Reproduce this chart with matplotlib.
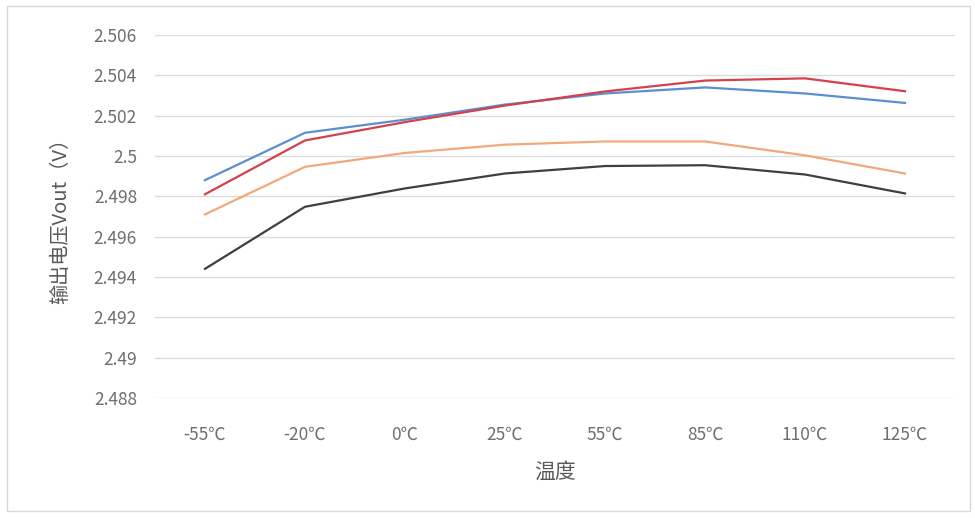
import matplotlib
matplotlib.use('Agg')
import matplotlib.pyplot as plt
from matplotlib.ticker import MultipleLocator, FuncFormatter
from matplotlib.patches import Rectangle

plt.rcParams['font.family'] = ['Noto Sans CJK SC', 'DejaVu Sans']

# data
temps = ['-55℃', '-20℃', '0℃', '25℃', '55℃', '85℃', '110℃', '125℃']
v_blue = [2.4988, 2.50115, 2.5018, 2.50255, 2.5031, 2.5034, 2.5031, 2.50263]
v_red = [2.4981, 2.50077, 2.50168, 2.5025, 2.5032, 2.50374, 2.50385, 2.50321]
v_orange = [2.4971, 2.49946, 2.50015, 2.50056, 2.50072, 2.50072, 2.50003, 2.49913]
v_dark = [2.4944, 2.49748, 2.49839, 2.49913, 2.4995, 2.49954, 2.49908, 2.49814]

fig = plt.figure(figsize=(9.75, 5.18), dpi=100)
ax = fig.add_axes([0.159, 0.232, 0.8205, 0.7004])

x = range(len(temps))
ax.plot(x, v_blue, color='#5b8fcf', lw=1.6)
ax.plot(x, v_red, color='#d2424c', lw=1.6)
ax.plot(x, v_orange, color='#f2a97a', lw=1.6)
ax.plot(x, v_dark, color='#3f3f3f', lw=1.6)

ax.set_xlim(-0.5, len(temps) - 0.5)
ax.set_ylim(2.488, 2.506)
ax.yaxis.set_major_locator(MultipleLocator(0.002))
ax.yaxis.set_major_formatter(FuncFormatter(lambda v, p: f'{v:.3f}'.rstrip('0').rstrip('.')))
ax.set_xticks(list(x))
ax.set_xticklabels(temps)
ax.grid(axis='y', color='#dcdcdc', lw=1)
ax.set_axisbelow(True)
for s in ax.spines.values():
    s.set_visible(False)
ax.tick_params(length=0, labelsize=12.5, labelcolor='#6e6e6e')
ax.tick_params(axis='x', pad=20)
ax.tick_params(axis='y', pad=13)

ax.set_xlabel('温度', fontsize=15, color='#595959', labelpad=12)
ax.set_ylabel('输出电压Vout（V）', fontsize=14.5, color='#595959', labelpad=16)

fig.patches.append(Rectangle((0.007, 0.013), 0.988, 0.975, transform=fig.transFigure,
                             fill=False, edgecolor='#d9d9d9', lw=1))

fig.savefig('out.png', dpi=100)
